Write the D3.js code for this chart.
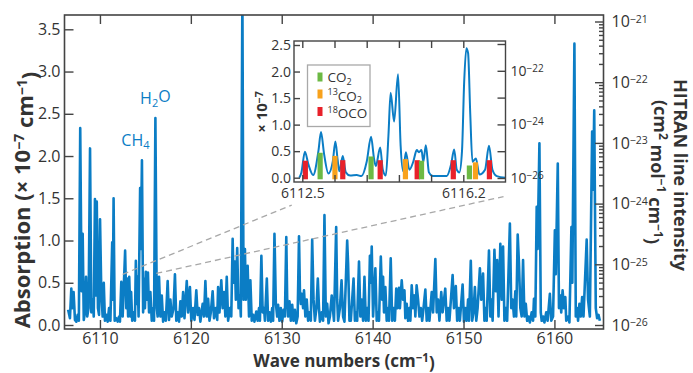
<!DOCTYPE html>
<html>
<head>
<meta charset="utf-8">
<script src="https://cdn.jsdelivr.net/npm/d3@7"></script>
<style>
  body { margin: 0; background: #fff; }
  svg text { font-family: "Open Sans", "Noto Sans", sans-serif; }
</style>
</head>
<body>
<svg id="chart" width="693" height="373"></svg>
<script>
// main spectrum, vertices [wave number, absorption x1e-7]
const spectrum = [
  [6106.5,0.18],[6106.7,0.08],[6106.85,0.43],[6106.98,0.2],[6107.1,0.39],[6107.25,0.06],[6107.4,0.04],
  [6107.55,0.12],[6107.68,0.05],[6107.83,2.33],[6107.98,0.4],[6108.1,1.08],[6108.22,0.06],[6108.35,0.15],
  [6108.47,0.57],[6108.6,0.1],[6108.75,0.2],[6108.91,2.09],[6109.05,0.15],[6109.2,0.3],[6109.32,0.1],
  [6109.45,1.49],[6109.55,0.35],[6109.65,1.46],[6109.78,0.2],[6109.9,0.12],[6110.01,1.25],[6110.15,0.37],
  [6110.3,0.1],[6110.42,0.5],[6110.55,0.05],[6110.7,0.12],[6110.85,0.04],[6111.0,0.2],[6111.15,0.05],
  [6111.35,0.98],[6111.42,0.3],[6111.5,1.5],[6111.62,0.05],[6111.8,0.08],[6111.95,0.04],[6112.1,0.1],
  [6112.2,0.04],[6112.35,0.51],[6112.5,0.1],[6112.77,0.88],[6112.9,0.2],[6112.98,0.55],[6113.1,0.1],
  [6113.22,0.57],[6113.35,0.1],[6113.43,0.39],[6113.55,0.05],[6113.7,0.15],[6113.85,0.05],[6113.95,0.76],
  [6114.05,0.25],[6114.15,0.57],[6114.25,0.1],[6114.42,1.62],[6114.5,0.9],[6114.62,1.95],[6114.75,0.15],
  [6114.85,0.55],[6114.95,0.2],[6115.05,0.63],[6115.15,0.3],[6115.28,0.62],[6115.4,0.15],[6115.55,0.39],
  [6115.7,0.05],[6115.85,0.2],[6115.95,0.05],[6116.1,2.45],[6116.25,0.2],[6116.35,0.1],[6116.5,0.57],
  [6116.65,0.1],[6116.8,0.35],[6116.95,0.04],[6117.1,0.15],[6117.25,0.05],[6117.45,0.52],[6117.6,0.06],
  [6117.75,0.3],[6117.9,0.1],[6118.1,0.2],[6118.25,0.6],[6118.4,0.05],[6118.55,0.15],[6118.7,0.04],
  [6118.85,0.28],[6119.0,0.1],[6119.15,0.39],[6119.3,0.08],[6119.55,0.52],[6119.7,0.15],[6119.9,0.45],
  [6120.05,0.05],[6120.25,0.2],[6120.4,0.06],[6120.6,0.41],[6120.75,0.12],[6120.9,0.2],[6121.05,0.04],
  [6121.3,0.25],[6121.45,0.1],[6121.6,0.52],[6121.75,0.1],[6121.9,0.31],[6122.05,0.05],[6122.2,0.15],
  [6122.4,0.4],[6122.55,0.08],[6122.75,0.2],[6122.9,0.06],[6123.0,0.45],[6123.15,0.15],[6123.35,0.53],
  [6123.5,0.2],[6123.65,0.39],[6123.8,0.1],[6123.95,0.57],[6124.1,0.05],[6124.3,0.2],[6124.45,0.1],
  [6124.6,1.02],[6124.7,0.5],[6124.85,0.75],[6124.95,0.3],[6125.1,0.91],[6125.25,0.2],[6125.4,0.35],
  [6125.5,0.1],[6125.67,3.9],[6125.8,0.3],[6125.95,0.9],[6126.05,0.3],[6126.25,0.7],[6126.4,0.1],
  [6126.55,0.53],[6126.7,0.05],[6126.85,0.12],[6127.0,0.04],[6127.2,0.16],[6127.35,0.05],[6127.5,0.2],
  [6127.6,0.05],[6127.76,0.82],[6127.9,0.15],[6128.05,0.2],[6128.15,0.05],[6128.36,0.55],[6128.5,0.05],
  [6128.65,0.15],[6128.8,0.04],[6128.95,0.2],[6129.05,0.05],[6129.2,1.08],[6129.35,0.26],[6129.5,0.1],
  [6129.6,0.24],[6129.75,0.05],[6129.9,0.2],[6130.05,0.04],[6130.2,0.18],[6130.35,0.1],[6130.5,1.04],
  [6130.6,0.3],[6130.7,0.1],[6130.85,0.28],[6131.0,0.05],[6131.15,0.24],[6131.3,0.05],[6131.45,0.18],
  [6131.6,0.02],[6131.75,0.1],[6131.9,1.05],[6132.0,0.41],[6132.1,0.25],[6132.2,0.37],[6132.35,0.2],
  [6132.45,0.41],[6132.6,0.1],[6132.75,0.3],[6132.9,0.05],[6133.05,0.15],[6133.2,0.05],[6133.35,1.01],
  [6133.5,0.3],[6133.65,0.05],[6133.82,0.2],[6133.97,0.55],[6134.1,0.2],[6134.2,0.04],[6134.4,0.15],
  [6134.55,0.05],[6134.7,1.3],[6134.85,0.1],[6135.0,0.25],[6135.15,0.02],[6135.3,0.1],[6135.5,0.35],
  [6135.75,0.05],[6135.99,1.16],[6136.1,0.3],[6136.2,0.05],[6136.4,0.2],[6136.58,0.53],[6136.75,0.1],
  [6136.9,0.04],[6137.2,1.0],[6137.3,0.73],[6137.45,0.05],[6137.6,0.05],[6137.9,0.55],[6138.05,0.05],
  [6138.2,0.15],[6138.3,0.05],[6138.5,0.75],[6138.65,0.1],[6138.8,0.3],[6138.95,0.05],[6139.1,0.57],
  [6139.25,0.05],[6139.4,0.2],[6139.55,0.05],[6139.7,0.82],[6139.8,0.5],[6139.9,0.93],[6140.05,0.1],
  [6140.3,0.67],[6140.45,0.05],[6140.6,0.15],[6140.7,0.05],[6140.9,0.81],[6141.05,0.3],[6141.15,0.57],
  [6141.25,0.15],[6141.4,0.45],[6141.55,0.05],[6141.7,0.2],[6141.8,0.05],[6141.99,0.79],[6142.15,0.05],
  [6142.3,0.2],[6142.45,0.05],[6142.6,0.43],[6142.75,0.2],[6142.9,0.44],[6143.0,0.2],[6143.2,0.53],
  [6143.35,0.3],[6143.5,0.41],[6143.6,0.08],[6143.75,0.25],[6143.9,0.05],[6144.05,0.2],[6144.15,0.05],
  [6144.3,0.47],[6144.45,0.2],[6144.6,0.35],[6144.7,0.1],[6144.84,0.47],[6145.0,0.3],[6145.15,0.1],
  [6145.3,0.2],[6145.45,0.05],[6145.6,0.2],[6145.8,0.42],[6145.95,0.05],[6146.1,0.2],[6146.25,0.05],
  [6146.5,0.39],[6146.65,0.15],[6146.9,0.78],[6147.05,0.15],[6147.2,0.3],[6147.35,0.05],[6147.55,0.39],
  [6147.7,0.15],[6147.99,0.43],[6148.15,0.05],[6148.3,0.2],[6148.45,0.05],[6148.8,0.59],[6148.95,0.2],
  [6149.15,0.46],[6149.3,0.05],[6149.45,0.2],[6149.6,0.05],[6149.9,0.48],[6150.05,0.04],[6150.2,0.2],
  [6150.35,0.05],[6150.5,0.3],[6150.6,0.05],[6150.8,0.76],[6150.95,0.05],[6151.1,0.15],[6151.25,0.45],
  [6151.4,0.05],[6151.55,0.2],[6151.8,0.67],[6151.95,0.3],[6152.15,0.61],[6152.3,0.05],[6152.45,0.2],
  [6152.55,0.05],[6152.8,0.88],[6152.95,0.1],[6153.1,0.3],[6153.2,0.05],[6153.4,0.89],[6153.55,0.4],
  [6153.7,0.77],[6153.85,0.1],[6154.05,0.96],[6154.2,0.3],[6154.35,0.93],[6154.5,0.05],[6154.65,0.2],
  [6154.8,0.05],[6155.1,1.2],[6155.25,0.2],[6155.4,0.3],[6155.55,0.1],[6155.7,0.4],[6155.8,0.1],
  [6155.96,1.07],[6156.1,0.73],[6156.25,0.2],[6156.4,0.1],[6156.55,0.77],[6156.7,0.1],[6156.85,0.25],
  [6157.0,0.05],[6157.15,0.1],[6157.3,0.03],[6157.5,0.15],[6157.65,0.05],[6157.75,0.31],[6157.9,0.1],
  [6158.05,1.4],[6158.15,0.9],[6158.35,2.15],[6158.5,0.15],[6158.6,0.05],[6158.75,0.1],[6158.9,0.03],
  [6159.1,0.15],[6159.25,0.05],[6159.5,0.37],[6159.65,0.05],[6159.85,0.1],[6160.05,1.12],[6160.15,0.6],
  [6160.37,1.91],[6160.5,0.2],[6160.65,0.35],[6160.75,0.15],[6160.9,0.41],[6161.05,0.2],[6161.2,0.33],
  [6161.3,0.05],[6161.5,0.1],[6161.65,0.03],[6161.87,1.16],[6161.97,0.5],[6162.2,3.33],[6162.35,0.1],
  [6162.5,0.2],[6162.6,0.05],[6162.75,0.25],[6162.9,0.1],[6163.05,0.33],[6163.2,0.1],[6163.55,1.01],
  [6163.7,0.3],[6163.9,0.1],[6164.15,2.29],[6164.25,1.6],[6164.38,2.54],[6164.55,0.2],[6164.7,0.08],
  [6164.85,0.12],[6165.0,0.05]
];

// inset spectrum (6112.5 - 6116.2 window)
const insetSpectrum = [
  [6112.43,0.0],[6112.48,0.1],[6112.56,0.49],[6112.64,0.25],[6112.75,0.05],[6112.87,0.5],[6112.93,0.86],
  [6113.0,0.45],[6113.1,0.08],[6113.2,0.3],[6113.26,0.68],[6113.31,0.35],[6113.35,0.12],[6113.43,0.41],
  [6113.5,0.1],[6113.6,0.04],[6113.75,0.05],[6113.86,0.03],[6113.98,0.3],[6114.08,0.77],[6114.15,0.35],
  [6114.19,0.22],[6114.29,0.57],[6114.35,0.15],[6114.42,0.04],[6114.48,0.8],[6114.53,1.6],[6114.61,1.06],
  [6114.7,1.95],[6114.76,0.6],[6114.82,0.12],[6114.88,0.48],[6114.96,0.15],[6115.05,0.3],[6115.13,0.52],
  [6115.18,0.48],[6115.24,0.52],[6115.28,0.3],[6115.34,0.61],[6115.41,0.1],[6115.5,0.03],[6115.82,0.03],
  [6115.92,0.25],[6115.99,0.53],[6116.05,0.15],[6116.11,0.1],[6116.17,0.5],[6116.22,1.8],[6116.27,2.44],
  [6116.31,2.35],[6116.36,1.2],[6116.41,0.3],[6116.49,0.36],[6116.57,0.06],[6116.7,0.15],[6116.79,0.6],
  [6116.87,0.15],[6116.97,0.03],[6117.17,0.0]
];

// HITRAN line markers in the inset: [wave number, height, species]
const insetMarkers = [
  [6112.57,0.32,'18OCO'],[6112.91,0.47,'CO2'],[6113.25,0.41,'13CO2'],[6113.43,0.33,'18OCO'],
  [6114.08,0.40,'CO2'],[6114.29,0.33,'18OCO'],[6114.87,0.35,'13CO2'],[6115.14,0.33,'18OCO'],
  [6115.24,0.32,'CO2'],[6115.97,0.33,'18OCO'],[6116.34,0.23,'CO2'],[6116.48,0.29,'13CO2'],
  [6116.80,0.33,'18OCO']
];

const speciesList = ['CO2', '13CO2', '18OCO'];
const speciesColor = { 'CO2': '#6cb944', '13CO2': '#f8a21c', '18OCO': '#e8212a' };
const speciesLabel = {
  'CO2': [['CO', ''], ['2', 'sub']],
  '13CO2': [['13', 'sup'], ['CO', ''], ['2', 'sub']],
  '18OCO': [['18', 'sup'], ['OCO', '']]
};

const xTicks = [6110, 6120, 6130, 6140, 6150, 6160];
const yTicks = [0, 0.5, 1.0, 1.5, 2.0, 2.5, 3.0, 3.5];
const logExponents = [-26, -25, -24, -23, -22, -21];
const insetXTicks = [6112.5, 6113.24, 6113.98, 6114.72, 6115.46, 6116.2];
const insetXLabels = [6112.5, 6116.2];
const insetYTicks = [0, 0.5, 1.0, 1.5, 2.0, 2.5];
const insetLogLabels = [-26, -24, -22];

// peak annotations
const annotations = [
  { parts: [['H', ''], ['2', 'sub'], ['O', '']], wn: 6116.1, val: 2.62 },
  { parts: [['CH', ''], ['4', 'sub']], wn: 6113.9, val: 2.12 }
];

// dashed zoom connectors, main-axis coords
const connectors = [
  [[6112.5, 0.6], [6131.1, 1.42]],
  [[6116.2, 0.61], [6154.4, 1.52]]
];

const blue = '#0b7dc5';
const axisColor = '#444';
const textColor = '#333';

const svg = d3.select('#chart');

function rich (sel, parts, small) {
  let shift = 0;
  parts.forEach(([t, kind]) => {
    const target = kind === 'sup' ? -0.42 : kind === 'sub' ? 0.28 : 0;
    const ts = sel.append('tspan').text(t);
    if (target !== shift) ts.attr('dy', `${target - shift}em`);
    if (kind) ts.attr('font-size', small);
    shift = target;
  });
}

// main frame
const frame = { left: 64.5, right: 603.5, top: 15, bottom: 329 };
const x = d3.scaleLinear().domain([6106.1, 6165.4]).range([frame.left, frame.right]);
const y = d3.scaleLinear().domain([0, 3.5]).range([325, 29.3]);
const yLog = d3.scaleLog().domain([1e-26, 1e-21]).range([325, 21.5]);

svg.append('defs').append('clipPath').attr('id', 'clipMain')
  .append('rect').attr('x', frame.left).attr('y', frame.top)
  .attr('width', frame.right - frame.left).attr('height', frame.bottom - frame.top);

const line = d3.line().x(d => x(d[0])).y(d => y(d[1]));

svg.append('path')
  .datum(spectrum)
  .attr('clip-path', 'url(#clipMain)')
  .attr('fill', 'none')
  .attr('stroke', blue)
  .attr('stroke-width', 2.6)
  .attr('stroke-linejoin', 'round')
  .attr('d', line);

function styleAxis (g, size) {
  g.select('.domain').remove();
  g.attr('font-family', null).attr('font-size', size).attr('color', textColor);
  g.selectAll('.tick line').attr('stroke', axisColor).attr('stroke-width', 1.4);
}

// bottom / top
svg.append('g')
  .attr('transform', `translate(0,${frame.bottom})`)
  .call(d3.axisBottom(x).tickValues(xTicks).tickSizeInner(-9).tickSizeOuter(0).tickPadding(4).tickFormat(d3.format('d')))
  .call(g => styleAxis(g, 16));
svg.append('g')
  .attr('transform', `translate(0,${frame.top})`)
  .call(d3.axisTop(x).tickValues(xTicks).tickSizeInner(-9).tickSizeOuter(0).tickFormat(''))
  .call(g => styleAxis(g, 16));

// left
svg.append('g')
  .attr('transform', `translate(${frame.left},0)`)
  .call(d3.axisLeft(y).tickValues(yTicks).tickSizeInner(-9).tickSizeOuter(0).tickPadding(4).tickFormat(d3.format('.1f')))
  .call(g => styleAxis(g, 16));

// right log
const logAll = yLog.ticks();
const isMajor = d => Math.abs(Math.log10(d) - Math.round(Math.log10(d))) < 1e-6;
svg.append('g')
  .attr('transform', `translate(${frame.right},0)`)
  .call(d3.axisRight(yLog).tickValues(logAll.filter(d => !isMajor(d))).tickSizeInner(-4.5).tickSizeOuter(0).tickFormat(''))
  .call(g => styleAxis(g, 16));
svg.append('g')
  .attr('transform', `translate(${frame.right},0)`)
  .call(d3.axisRight(yLog).tickValues(logExponents.map(e => Math.pow(10, e))).tickSizeInner(-8.5).tickSizeOuter(0).tickPadding(8))
  .call(g => styleAxis(g, 16))
  .call(g => g.selectAll('.tick text').each(function (d) {
    const t = d3.select(this).text(null);
    rich(t, [['10', ''], ['\u2212' + Math.abs(Math.round(Math.log10(d))), 'sup']], 10.5);
  }));

svg.append('rect')
  .attr('x', frame.left).attr('y', frame.top)
  .attr('width', frame.right - frame.left).attr('height', frame.bottom - frame.top)
  .attr('fill', 'none').attr('stroke', axisColor).attr('stroke-width', 1.6);

// axis titles
const xTitle = svg.append('text')
  .attr('x', (frame.left + frame.right) / 2 + 10).attr('y', 367)
  .attr('text-anchor', 'middle').attr('font-weight', 'bold').attr('font-size', 17).attr('fill', textColor);
rich(xTitle, [['Wave numbers (cm', ''], ['\u22121', 'sup'], [')', '']], 11.5);

const yTitle = svg.append('text')
  .attr('transform', 'translate(30,200) rotate(-90)')
  .attr('text-anchor', 'middle').attr('font-weight', 'bold').attr('font-size', 22)
  .attr('fill', textColor);
rich(yTitle, [['Absorption (\u00d7 10', ''], ['\u22127', 'sup'], [' cm', ''], ['\u22121', 'sup'], [')', '']], 14);

svg.append('text')
  .attr('transform', 'translate(674,175) rotate(90)')
  .attr('text-anchor', 'middle').attr('font-weight', 'bold').attr('font-size', 18)
  .attr('fill', textColor)
  .text('HITRAN line intensity');
const rTitle2 = svg.append('text')
  .attr('transform', 'translate(654,172) rotate(90)')
  .attr('text-anchor', 'middle').attr('font-weight', 'bold').attr('font-size', 18).attr('fill', textColor);
rich(rTitle2, [['(cm', ''], ['2', 'sup'], [' mol', ''], ['\u22121', 'sup'], [' cm', ''], ['\u22121', 'sup'], [')', '']], 12);

// peak annotations
annotations.forEach(a => {
  const t = svg.append('text')
    .attr('x', x(a.wn)).attr('y', y(a.val))
    .attr('text-anchor', 'middle').attr('font-size', 16).attr('fill', blue);
  rich(t, a.parts, 11);
});

// connectors
connectors.forEach(([p0, p1]) => {
  svg.append('line')
    .attr('x1', x(p0[0])).attr('y1', y(p0[1]))
    .attr('x2', x(p1[0])).attr('y2', y(p1[1]))
    .attr('stroke', '#a8a8a8').attr('stroke-width', 1.3).attr('stroke-dasharray', '6,4');
});

// ---------- inset ----------
const inset = { left: 294, right: 505.5, top: 41, bottom: 182 };
const ix = d3.scaleLinear().domain([6112.5, 6116.2]).range([302.3, 463.3]);
const iy = d3.scaleLinear().domain([0, 2.5]).range([177.7, 45]);
const iyLog = d3.scaleLog().domain([1e-26, 1e-21]).range([178, 44]);

svg.append('rect')
  .attr('x', inset.left).attr('y', inset.top)
  .attr('width', inset.right - inset.left).attr('height', inset.bottom - inset.top)
  .attr('fill', '#fff');

svg.select('defs').append('clipPath').attr('id', 'clipInset')
  .append('rect').attr('x', inset.left).attr('y', inset.top)
  .attr('width', inset.right - inset.left).attr('height', inset.bottom - inset.top);

const insetG = svg.append('g').attr('clip-path', 'url(#clipInset)');

insetG.append('path')
  .datum(insetSpectrum)
  .attr('fill', 'none')
  .attr('stroke', blue)
  .attr('stroke-width', 2)
  .attr('d', d3.line().curve(d3.curveMonotoneX).x(d => ix(d[0])).y(d => iy(d[1])));

insetG.selectAll('rect.marker')
  .data(insetMarkers)
  .join('rect')
  .attr('class', 'marker')
  .attr('x', d => ix(d[0]) - 2.6)
  .attr('width', 5.2)
  .attr('y', d => iy(d[1]))
  .attr('height', d => iy(-0.03) - iy(d[1]))
  .attr('fill', d => speciesColor[d[2]]);

svg.append('g')
  .attr('transform', `translate(0,${inset.bottom})`)
  .call(d3.axisBottom(ix).tickValues(insetXTicks).tickSizeInner(-7).tickSizeOuter(0).tickFormat(''))
  .call(g => styleAxis(g, 14));
svg.append('g')
  .attr('transform', `translate(0,${inset.bottom})`)
  .call(d3.axisBottom(ix).tickValues(insetXLabels).tickSize(0).tickPadding(6).tickFormat(d3.format('.1f')))
  .call(g => styleAxis(g, 14));
svg.append('g')
  .attr('transform', `translate(0,${inset.top})`)
  .call(d3.axisTop(ix).tickValues(insetXTicks).tickSizeInner(-7).tickSizeOuter(0).tickFormat(''))
  .call(g => styleAxis(g, 14));
svg.append('g')
  .attr('transform', `translate(${inset.left},0)`)
  .call(d3.axisLeft(iy).tickValues(insetYTicks).tickSizeInner(-6).tickSizeOuter(0).tickPadding(3).tickFormat(d3.format('.1f')))
  .call(g => styleAxis(g, 14));
svg.append('g')
  .attr('transform', `translate(${inset.right},0)`)
  .call(d3.axisRight(iyLog).tickValues(logExponents.map(e => Math.pow(10, e))).tickSizeInner(-8).tickSizeOuter(0).tickFormat(''))
  .call(g => styleAxis(g, 14));
svg.append('g')
  .attr('transform', `translate(${inset.right},0)`)
  .call(d3.axisRight(iyLog).tickValues(insetLogLabels.map(e => Math.pow(10, e))).tickSize(0).tickPadding(5))
  .call(g => styleAxis(g, 14))
  .call(g => g.selectAll('.tick text').each(function (d) {
    const t = d3.select(this).text(null);
    rich(t, [['10', ''], ['\u2212' + Math.abs(Math.round(Math.log10(d))), 'sup']], 10);
  }));

svg.append('rect')
  .attr('x', inset.left).attr('y', inset.top)
  .attr('width', inset.right - inset.left).attr('height', inset.bottom - inset.top)
  .attr('fill', 'none').attr('stroke', axisColor).attr('stroke-width', 1.4);

const iTitle = svg.append('text')
  .attr('transform', 'translate(267,112) rotate(-90)')
  .attr('text-anchor', 'middle').attr('font-weight', 'bold').attr('font-size', 15).attr('fill', textColor);
rich(iTitle, [['\u00d7 10', ''], ['\u22127', 'sup']], 10.5);

// legend
const legend = { x: 307.5, y: 65, w: 62.5, h: 61.5, rowY: [77, 94, 111.5] };
svg.append('rect')
  .attr('x', legend.x).attr('y', legend.y).attr('width', legend.w).attr('height', legend.h)
  .attr('fill', '#fff').attr('stroke', '#a9a9a9').attr('stroke-width', 1.3);
speciesList.forEach((s, i) => {
  svg.append('rect')
    .attr('x', legend.x + 10).attr('y', legend.rowY[i] - 4.5)
    .attr('width', 5).attr('height', 9)
    .attr('fill', speciesColor[s]);
  const t = svg.append('text')
    .attr('x', legend.x + 20).attr('y', legend.rowY[i] + 5)
    .attr('font-size', 13.5).attr('fill', textColor);
  rich(t, speciesLabel[s], 9);
});
</script>
</body>
</html>
